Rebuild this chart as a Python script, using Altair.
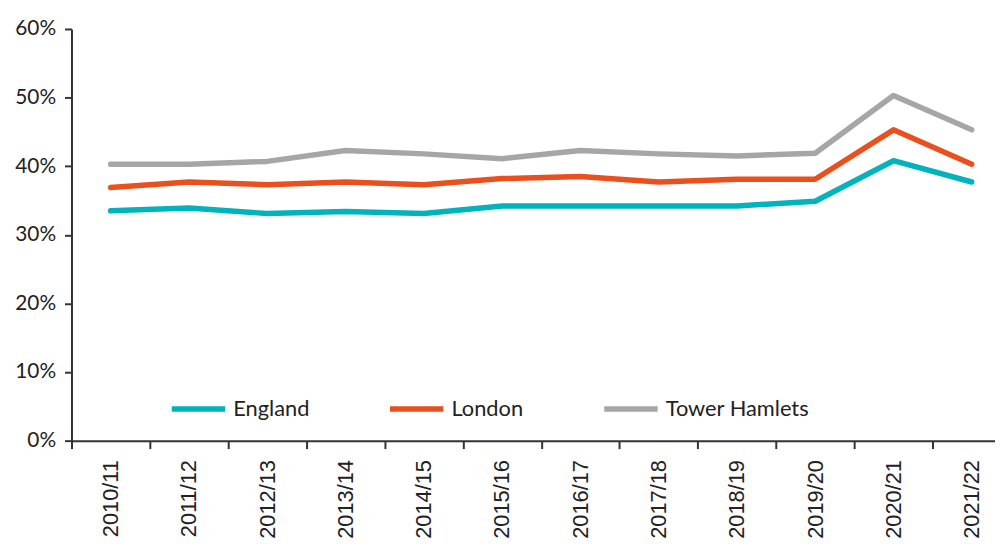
import altair as alt
import pandas as pd

years = ["2010/11", "2011/12", "2012/13", "2013/14", "2014/15", "2015/16",
         "2016/17", "2017/18", "2018/19", "2019/20", "2020/21", "2021/22"]
england = [33.5, 33.9, 33.1, 33.4, 33.1, 34.2, 34.2, 34.2, 34.2, 34.9, 40.8, 37.7]
london = [36.9, 37.7, 37.3, 37.7, 37.3, 38.2, 38.5, 37.7, 38.1, 38.1, 45.3, 40.3]
tower_hamlets = [40.3, 40.3, 40.7, 42.3, 41.8, 41.1, 42.3, 41.8, 41.5, 41.9, 50.3, 45.3]

series_names = ["England", "London", "Tower Hamlets"]
series_colors = ["#00B3BC", "#E9501E", "#A6A6A6"]

rows = []
for name, vals in zip(series_names, [england, london, tower_hamlets]):
    for y, v in zip(years, vals):
        rows.append({"year": y, "series": name, "value": v / 100})
df = pd.DataFrame(rows)

chart = alt.Chart(df).mark_line(strokeWidth=5.5, strokeCap="round", strokeJoin="round").encode(
    x=alt.X("year:N", sort=years, title=None,
            scale=alt.Scale(type="band", paddingInner=0, paddingOuter=0),
            axis=alt.Axis(labelAngle=270, labelAlign="right", labelBaseline="middle",
                          labelFont="Liberation Sans", labelFontSize=22, labelColor="#222222",
                          labelPadding=11, tickBand="extent", tickSize=8, tickWidth=2,
                          tickColor="#333333", domainColor="#333333", domainWidth=2,
                          grid=False)),
    y=alt.Y("value:Q", title=None,
            scale=alt.Scale(domain=[0, 0.6], nice=False),
            axis=alt.Axis(values=[0, 0.1, 0.2, 0.3, 0.4, 0.5, 0.6], format=".0%",
                          labelFont="Lato", labelFontSize=21, labelColor="#222222",
                          labelPadding=9, tickSize=7, tickWidth=2, tickColor="#333333",
                          domainColor="#333333", domainWidth=2, grid=False)),
    color=alt.Color("series:N", sort=series_names,
                    scale=alt.Scale(domain=series_names, range=series_colors),
                    legend=alt.Legend(title=None, orient="none", direction="horizontal",
                                      legendX=98, legendY=353, symbolType="stroke",
                                      symbolSize=2900, symbolStrokeWidth=5.5,
                                      labelFont="Lato", labelFontSize=22,
                                      labelColor="#222222", labelOffset=5,
                                      columnPadding=70)),
).properties(
    width=947, height=415,
    autosize=alt.AutoSizeParams(type="none"),
    padding={"left": 64, "top": 19, "right": -16, "bottom": 100},
).configure_view(stroke=None)

chart.save("out.html", embed_options={"renderer": "svg", "actions": False})
